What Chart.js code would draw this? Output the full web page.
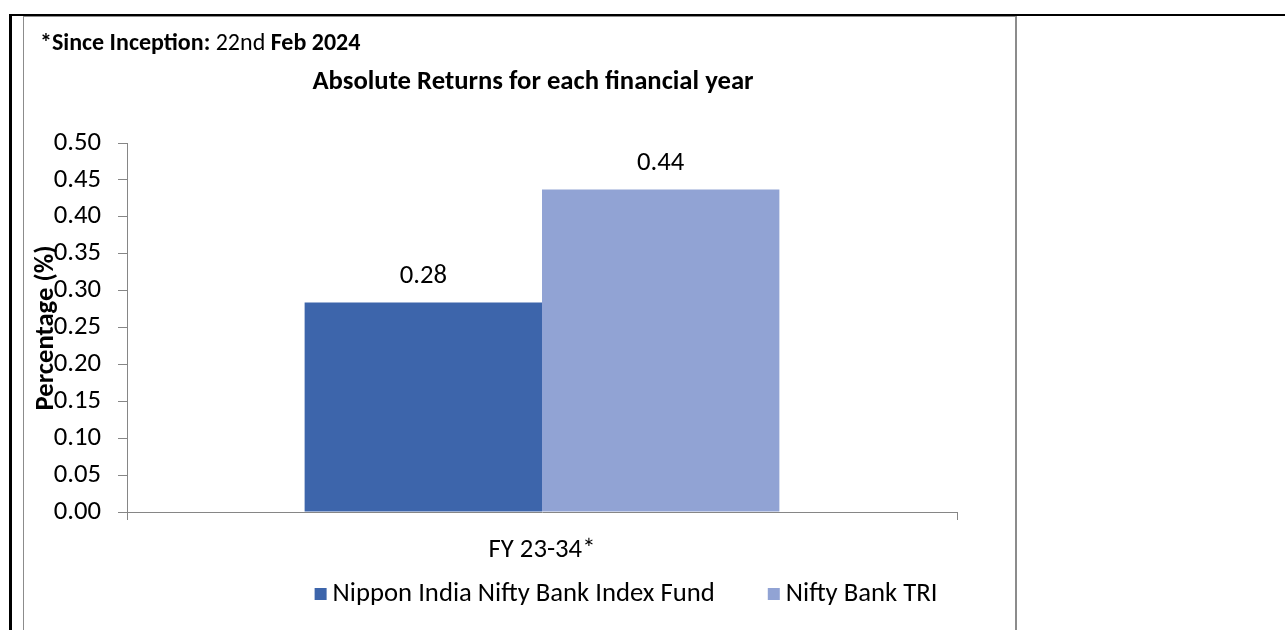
<!DOCTYPE html>
<html>
<head>
<meta charset="utf-8">
<script src="https://cdn.jsdelivr.net/npm/chart.js@4.4.1/dist/chart.umd.min.js"></script>
<style>
  body { margin: 0; background: #fff; }
  #wrap { position: relative; width: 1285px; height: 630px; overflow: hidden; }
  .ln { position: absolute; }
  canvas { position: absolute; left: 0; top: 0; }
</style>
</head>
<body>
<div id="wrap">
  <div class="ln" style="left:9px;top:14px;width:1276px;height:2px;background:#000"></div>
  <div class="ln" style="left:9px;top:14px;width:3px;height:616px;background:#000"></div>
  <div class="ln" style="left:23px;top:16px;width:993px;height:1px;background:#8c8c8c"></div>
  <div class="ln" style="left:23px;top:16px;width:1px;height:614px;background:#8c8c8c"></div>
  <div class="ln" style="left:1015px;top:16px;width:2px;height:614px;background:#8c8c8c"></div>
  <canvas id="returnsChart" width="1252" height="630"></canvas>
</div>
<script>
// data
var categories = ['FY 23-34*'];
var seriesNames = ['Nippon India Nifty Bank Index Fund', 'Nifty Bank TRI'];
var seriesColors = ['#3d65ab', '#91a3d4'];
var fundReturns = [0.284];
var benchmarkReturns = [0.437];
var yMin = 0, yMax = 0.5, yStep = 0.05;

var FONT = 'Carlito, Lato, sans-serif';
var FS = 26.7;
Chart.defaults.font.family = FONT;
Chart.defaults.color = '#000';

// headings, rotated axis title, value labels and the legend row
var textPlugin = {
    id: 'texts',
    afterDraw: function (chart) {
        var ctx = chart.ctx;
        ctx.save();
        ctx.fillStyle = '#000';
        ctx.textBaseline = 'middle';

        var x = 40;
        [['*Since Inception: ', 'bold'], ['22nd ', 'normal'], ['Feb 2024', 'bold']].forEach(function (p) {
            ctx.font = p[1] + ' 24px ' + FONT;
            ctx.textAlign = 'left';
            ctx.fillText(p[0], x, 44);
            x += ctx.measureText(p[0]).width;
        });

        ctx.textAlign = 'center';
        ctx.font = 'bold ' + FS + 'px ' + FONT;
        ctx.fillText('Absolute Returns for each financial year', 533, 82);

        ctx.font = FS + 'px ' + FONT;
        chart.data.datasets.forEach(function (ds, i) {
            chart.getDatasetMeta(i).data.forEach(function (bar, j) {
                ctx.fillText(ds.data[j].toFixed(2), bar.x, bar.y - 26);
            });
        });

        // legend
        ctx.textAlign = 'left';
        var items = chart.data.datasets.map(function (ds) {
            return { text: ds.label, color: ds.backgroundColor, w: ctx.measureText(ds.label).width };
        });
        var total = 0;
        items.forEach(function (it, i) { total += 12 + 6 + it.w + (i > 0 ? 53 : 0); });
        var lx = chart.width / 2 - total / 2, ly = 594;
        items.forEach(function (it) {
            ctx.fillStyle = it.color;
            ctx.fillRect(lx, ly - 6, 12, 12);
            ctx.fillStyle = '#000';
            ctx.fillText(it.text, lx + 18, ly);
            lx += 18 + it.w + 53;
        });

        ctx.textAlign = 'center';
        ctx.translate(46, 328);
        ctx.rotate(-Math.PI / 2);
        ctx.font = 'bold ' + FS + 'px ' + FONT;
        ctx.fillText('Percentage (%)', 0, 0);
        ctx.restore();
    }
};

var ctx = document.getElementById('returnsChart').getContext('2d');
var returnsChart = new Chart(ctx, {
    type: 'bar',
    data: {
        labels: categories,
        datasets: [{
            label: seriesNames[0],
            data: fundReturns,
            backgroundColor: seriesColors[0]
        }, {
            label: seriesNames[1],
            data: benchmarkReturns,
            backgroundColor: seriesColors[1]
        }]
    },
    options: {
        responsive: false,
        animation: false,
        layout: { padding: { top: 143, left: 0, right: 295, bottom: 0 } },
        categoryPercentage: 0.572,
        barPercentage: 1,
        plugins: {
            legend: { display: false },
            tooltip: { enabled: false }
        },
        scales: {
            x: {
                afterFit: function (scale) { scale.height = 118; },
                grid: { drawOnChartArea: false, tickLength: 8, color: '#868686' },
                border: { color: '#868686' },
                ticks: { padding: 14, font: { size: FS } }
            },
            y: {
                min: yMin,
                max: yMax,
                afterFit: function (scale) { scale.width = 127; },
                grid: { drawOnChartArea: false, tickLength: 9, color: '#868686' },
                border: { color: '#868686' },
                ticks: {
                    stepSize: yStep,
                    padding: 17,
                    font: { size: FS },
                    callback: function (v) { return v.toFixed(2); }
                }
            }
        }
    },
    plugins: [textPlugin]
});
</script>
</body>
</html>
